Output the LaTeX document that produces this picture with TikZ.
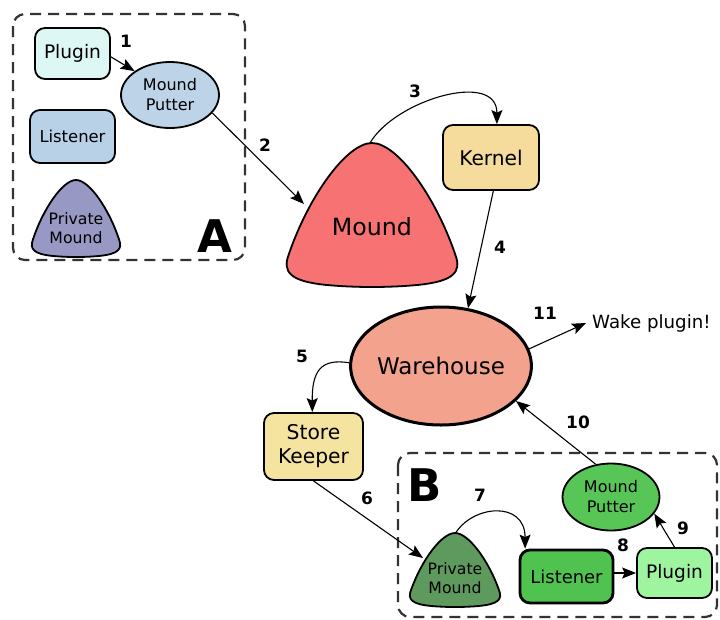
\documentclass[tikz,border=0pt]{standalone}
\usepackage{fontspec}
\setmainfont{DejaVu Sans}
\usetikzlibrary{arrows.meta,shapes.geometric}

\newcommand\fsz[2]{\fontsize{#1}{#2}\selectfont}

\definecolor{cPlugA}{HTML}{DCF7F4}
\definecolor{cMpA}{HTML}{BCD3E8}
\definecolor{cListA}{HTML}{B9D1E6}
\definecolor{cPmA}{HTML}{9898C4}
\definecolor{cMound}{HTML}{F77272}
\definecolor{cKernel}{HTML}{F5DC9C}
\definecolor{cWh}{HTML}{F2A28D}
\definecolor{cSk}{HTML}{F5E3A0}
\definecolor{cMpB}{HTML}{57C657}
\definecolor{cListB}{HTML}{4FC24F}
\definecolor{cPlugB}{HTML}{9FF59F}
\definecolor{cPmB}{HTML}{5E9A5E}

% rounded triangle, drawn in a unit box [-1,1] x [-1,1]
\tikzset{
  blob/.pic={
    \draw[line width=1.8pt, pic actions]
      (0,-1) .. controls (0.3,-1) and (0.75,-0.25) .. (0.98,0.55)
      .. controls (1.06,0.8) and (0.95,0.92) .. (0.55,0.97)
      .. controls (0.2,1.01) and (-0.2,1.01) .. (-0.55,0.97)
      .. controls (-0.95,0.92) and (-1.06,0.8) .. (-0.98,0.55)
      .. controls (-0.75,-0.25) and (-0.3,-1) .. (0,-1) -- cycle;
  }
}

\begin{document}
\begin{tikzpicture}[x=1pt,y=-1pt,
  box/.style={draw, rounded corners=10pt, line width=1.8pt, inner sep=0pt, align=center},
  oval/.style={draw, ellipse, line width=1.8pt, inner sep=0pt, align=center},
  num/.style={font=\fsz{17pt}{20pt}\bfseries},
  conn/.style={-{Stealth[length=14pt,width=11pt,inset=2.5pt]}, line width=1.1pt},
  group/.style={draw=black!80, dash pattern=on 11pt off 7pt, line width=2.2pt, rounded corners=12pt},
]
\useasboundingbox (0,0) rectangle (720,619);

% group frames
\draw[group] (13,14) rectangle (245,260);
\draw[group] (398,453) rectangle (717,617);
\node[font=\fsz{45pt}{45pt}\bfseries] (labA) at (215,236) {A};
\node[font=\fsz{45pt}{45pt}\bfseries] (labB) at (425,485) {B};

% group A
\node[box, fill=cPlugA, minimum width=75pt, minimum height=51pt, font=\fsz{18.6pt}{22pt}] (plugA) at (72.5,53.5) {Plugin};
\node[oval, fill=cMpA, minimum width=98pt, minimum height=66pt, font=\fsz{16pt}{20pt}] (mpA) at (170,95) {Mound\\Putter};
\node[box, fill=cListA, minimum width=85pt, minimum height=53pt, font=\fsz{16.4pt}{20pt}] (listA) at (72.5,136.5) {Listener};
\path (76,218.5) pic[fill=cPmA, xscale=44, yscale=38.5] {blob};
\node[align=center, font=\fsz{15.7pt}{19pt}] (pmA) at (76,228) {Private\\Mound};

% central part
\path (372,215) pic[fill=cMound, xscale=85, yscale=72] {blob};
\node[font=\fsz{23.7pt}{28pt}] (mound) at (372,227) {Mound};
\coordinate (moundTop) at (370,143);
\coordinate (moundW) at (304,204);
\node[box, fill=cKernel, minimum width=96pt, minimum height=65pt, font=\fsz{20.2pt}{24pt}] (kernel) at (491,157.5) {Kernel};
\node[oval, fill=cWh, line width=3pt, minimum width=170pt, minimum height=118pt, font=\fsz{23pt}{28pt}] (wh) at (441,366) {Warehouse};
\node[anchor=west, inner xsep=6pt, inner ysep=0pt, font=\fsz{18.2pt}{22pt}] (wake) at (586,323) {Wake plugin!};
\node[box, fill=cSk, minimum width=99pt, minimum height=67pt, font=\fsz{20.3pt}{24pt}] (sk) at (313.5,446.5) {Store\\Keeper};

% group B
\path (455,570) pic[fill=cPmB, xscale=45, yscale=37] {blob};
\node[align=center, font=\fsz{15.7pt}{19pt}] (pmB) at (455,578) {Private\\Mound};
\coordinate (pmBTop) at (455,534);
\coordinate (pmBW) at (423,558);
\node[box, fill=cListB, line width=2.8pt, minimum width=93pt, minimum height=53pt, font=\fsz{17.9pt}{22pt}] (listB) at (566.5,576.5) {Listener};
\node[box, fill=cPlugB, minimum width=75pt, minimum height=50pt, font=\fsz{18.6pt}{22pt}] (plugB) at (674.5,573) {Plugin};
\node[oval, fill=cMpB, minimum width=97pt, minimum height=67pt, font=\fsz{16pt}{20pt}] (mpB) at (611,497) {Mound\\Putter};

% connectors
\draw[conn] (plugA.-5) -- (mpA.146);
\draw[conn] (mpA.-23) -- (moundW);
\draw[conn] (moundTop) .. controls (395,100) and (497,70) .. (kernel.80);
\draw[conn] (kernel.-86) -- (wh.65);
\draw[conn] (wh.178) .. controls (320,358) and (312,372) .. (sk.92);
\draw[conn] (sk.south) -- (pmBW);
\draw[conn] (pmBTop) .. controls (472,505) and (525,500) .. (listB.146);
\draw[conn] (listB.east |- plugB.west) -- (plugB.west);
\draw[conn] (plugB.north) -- (mpB.-21);
\draw[conn] (mpB.115) -- (wh.-25);
\draw[conn] (wh.11) -- (wake.west);

% step numbers
\node[num] (n1) at (126,41) {1};
\node[num] (n2) at (265,145) {2};
\node[num] (n3) at (415,91) {3};
\node[num] (n4) at (500,247) {4};
\node[num] (n5) at (302,356) {5};
\node[num] (n6) at (367,498) {6};
\node[num] (n7) at (480,495) {7};
\node[num] (n8) at (623,545) {8};
\node[num] (n9) at (683,528) {9};
\node[num] (n10) at (578,422) {10};
\node[num] (n11) at (545,313) {11};
\end{tikzpicture}
\end{document}
